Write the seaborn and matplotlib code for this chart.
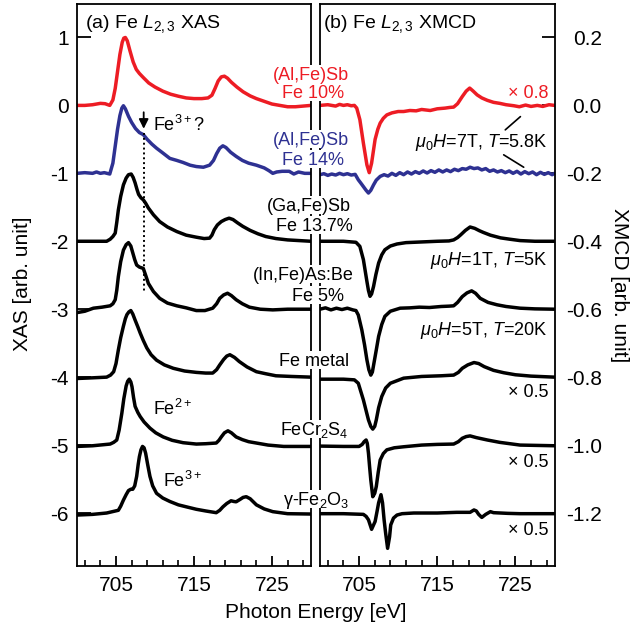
import numpy as np
import matplotlib
matplotlib.use("Agg")
import matplotlib.pyplot as plt
import seaborn as sns
from matplotlib.patches import Rectangle
from matplotlib.ticker import FixedLocator, FormatStrFormatter

# Fe L2,3 XAS (left) and XMCD (right) spectra
# XAS shapes relative to their baseline, XMCD shapes as plotted (scaled)

RED = "#ed1c24"
BLUE = "#2e3192"

xas_offsets = [0, -1, -2, -3, -4, -5, -6]
xmcd_offsets = [0.0, -0.2, -0.4, -0.6, -0.8, -1.0, -1.2]
colors = [RED, BLUE, "k", "k", "k", "k", "k"]

# --- XAS ---
xas_alfe10_e = [700, 701, 702, 703, 703.6, 704.2, 704.6, 704.9, 705.2, 705.5,
                705.8, 706.0, 706.2, 706.45, 706.8, 707.2, 707.6, 708.0, 708.5, 709.2,
                710.0, 711.0, 712.0, 713.0, 714.0, 715.0, 716.0, 716.8, 717.3, 717.7,
                718.1, 718.5, 718.9, 719.3, 719.8, 720.5, 721.3, 722.2, 723.0, 724.0,
                725.0, 726.0, 727.0, 728.0, 729.0, 730.0]
xas_alfe10_v = [0.0, 0.0, 0.01, 0.03, 0.025, 0.0, 0.08, 0.25, 0.5, 0.75,
                0.93, 0.99, 1.0, 0.95, 0.8, 0.64, 0.53, 0.47, 0.41, 0.33,
                0.27, 0.21, 0.165, 0.135, 0.11, 0.10, 0.10, 0.11, 0.15, 0.25,
                0.36, 0.42, 0.43, 0.40, 0.34, 0.27, 0.20, 0.14, 0.10, 0.06,
                0.02, 0.0, -0.02, -0.02, -0.01, 0.0]

xas_alfe14_e = [700, 701, 702, 702.5, 703, 703.5, 704.2, 704.6, 704.9, 705.2,
                705.5, 705.75, 705.95, 706.2, 706.6, 707.0, 707.5, 708.0, 708.5, 709.0,
                709.6, 710.2, 711.0, 711.9, 712.8, 713.6, 714.5, 715.3, 716.2, 717.0,
                717.5, 717.9, 718.3, 718.7, 719.1, 719.7, 720.4, 721.2, 722.0, 723.0,
                724.0, 724.6, 725.1, 725.6, 726.3, 727.2, 727.8, 728.4, 729.2, 730.0]
xas_alfe14_v = [0.0, 0.01, 0.0, 0.02, 0.0, 0.01, -0.01, 0.15, 0.40, 0.65,
                0.85, 0.96, 0.995, 0.95, 0.84, 0.75, 0.66, 0.60, 0.57, 0.50,
                0.43, 0.37, 0.30, 0.22, 0.19, 0.16, 0.12, 0.10, 0.09, 0.12,
                0.19, 0.29, 0.37, 0.405, 0.38, 0.31, 0.25, 0.19, 0.15, 0.12,
                0.08, 0.04, 0.0, 0.02, 0.03, 0.03, -0.01, 0.02, 0.0, 0.0]

xas_gafe_e = [700, 702, 703.8, 704.25, 704.6, 704.9, 705.1, 705.3, 705.6, 705.95,
              706.3, 706.6, 706.95, 707.2, 707.45, 707.7, 707.9, 708.2, 708.5, 708.8,
              709.15, 709.8, 710.6, 711.6, 712.8, 714.0, 715.3, 716.3, 717.0, 717.3,
              717.6, 718.0, 718.5, 719.0, 719.5, 720.0, 720.6, 721.25, 722.2, 723.2,
              724.2, 725.5, 727.0, 728.5, 730.0]
xas_gafe_v = [0.0, 0.0, 0.0, 0.03, 0.07, 0.12, 0.28, 0.46, 0.66, 0.83,
              0.93, 0.98, 0.99, 0.94, 0.86, 0.76, 0.69, 0.64, 0.61, 0.56,
              0.49, 0.39, 0.29, 0.21, 0.143, 0.09, 0.06, 0.04, 0.046, 0.09,
              0.17, 0.24, 0.29, 0.32, 0.34, 0.32, 0.27, 0.22, 0.16, 0.11,
              0.07, 0.04, 0.02, 0.01, 0.0]

xas_infe_e = [700, 701, 702.1, 703.2, 704.25, 704.6, 704.9, 705.1, 705.3, 705.6,
              705.95, 706.3, 706.6, 706.9, 707.15, 707.4, 707.65, 708.0, 708.5, 708.8,
              709.15, 709.8, 710.6, 711.6, 712.8, 714.0, 715.3, 716.4, 717.4, 717.9,
              718.3, 718.8, 719.3, 719.8, 720.4, 721.2, 722.1, 723.5, 725.1, 727.0,
              730.0]
xas_infe_v = [-0.05, -0.03, 0.015, 0.03, 0.05, 0.08, 0.14, 0.28, 0.48, 0.70,
              0.87, 0.95, 0.98, 0.93, 0.83, 0.73, 0.65, 0.62, 0.60, 0.50,
              0.38, 0.26, 0.16, 0.09, 0.05, 0.02, -0.02, -0.02, 0.015, 0.08,
              0.16, 0.21, 0.235, 0.20, 0.14, 0.08, 0.03, 0.0, -0.01, 0.0,
              0.0]

xas_femetal_e = [700, 702, 703.8, 704.3, 704.7, 705.0, 705.3, 705.6, 705.95, 706.2,
                 706.4, 706.65, 706.9, 707.15, 707.45, 707.8, 708.1, 708.5, 708.95, 709.5,
                 710.2, 711.2, 712.35, 713.8, 715.3, 716.5, 717.4, 717.9, 718.3, 718.8,
                 719.2, 719.6, 720.2, 720.8, 721.8, 723.0, 724.2, 725.5, 727.5, 730.0]
xas_femetal_v = [-0.02, -0.01, 0.0, 0.03, 0.08, 0.20, 0.40, 0.58, 0.75, 0.86,
                 0.92, 0.96, 0.98, 0.93, 0.84, 0.74, 0.65, 0.54, 0.43, 0.33,
                 0.25, 0.18, 0.13, 0.09, 0.07, 0.06, 0.06, 0.11, 0.18, 0.26,
                 0.31, 0.33, 0.29, 0.23, 0.15, 0.08, 0.05, 0.02, 0.01, 0.0]

xas_fecrs_e = [700, 702, 704.25, 704.7, 705.1, 705.4, 705.75, 706.0, 706.3, 706.5,
               706.7, 706.9, 707.05, 707.25, 707.45, 707.8, 708.1, 708.6, 709.35, 710.1,
               711.05, 712.2, 713.6, 715.3, 716.5, 717.85, 718.2, 718.5, 718.9, 719.35,
               719.8, 720.4, 721.2, 722.0, 723.0, 724.5, 726.5, 730.0]
xas_fecrs_v = [-0.02, -0.01, 0.015, 0.04, 0.075, 0.22, 0.47, 0.68, 0.87, 0.94,
               0.97, 0.93, 0.86, 0.70, 0.57, 0.48, 0.42, 0.34, 0.25, 0.18,
               0.12, 0.07, 0.035, 0.015, 0.02, 0.03, 0.07, 0.12, 0.18, 0.21,
               0.18, 0.12, 0.08, 0.05, 0.03, 0.0, -0.02, -0.02]

xas_fe2o3_e = [700, 702, 703.8, 705.3, 705.6, 705.95, 706.3, 706.6, 706.9, 707.15,
               707.4, 707.65, 707.85, 708.0, 708.2, 708.4, 708.6, 708.8, 709.05, 709.35,
               709.7, 710.2, 711.0, 711.9, 713.0, 714.05, 715.3, 716.5, 717.85, 718.3,
               718.7, 719.2, 719.75, 720.1, 720.4, 720.9, 721.3, 721.7, 722.2, 723.0,
               724.0, 725.1, 727.0, 730.0]
xas_fe2o3_v = [-0.03, -0.02, 0.0, 0.04, 0.10, 0.19, 0.27, 0.33, 0.35, 0.35,
               0.40, 0.54, 0.72, 0.83, 0.93, 0.98, 0.96, 0.88, 0.72, 0.54,
               0.40, 0.29, 0.22, 0.17, 0.12, 0.09, 0.055, 0.03, 0.005, 0.04,
               0.09, 0.14, 0.18, 0.17, 0.165, 0.20, 0.23, 0.24, 0.21, 0.12,
               0.06, 0.02, -0.01, -0.015]

# --- XMCD ---
xmcd_alfe10_e = [700, 701, 702, 702.5, 703, 703.5, 704, 704.4, 704.7, 705.1,
                 705.55, 706.0, 706.3, 706.6, 707.05, 707.4, 707.7, 708.1, 708.55, 709.2,
                 710.0, 710.7, 711.5, 712.3, 713.0, 714.1, 715.0, 716.0, 716.6, 717.1,
                 717.6, 718.2, 718.7, 719.15, 719.6, 720.1, 720.7, 721.4, 722.2, 723.0,
                 723.8, 724.8, 725.5, 726.3, 727.0, 727.8, 728.5, 729.3, 730.0]
xmcd_alfe10_v = [0.0, 0.002, -0.002, 0.003, 0.0, 0.002, -0.001, 0.0, -0.008, -0.042,
                 -0.111, -0.175, -0.198, -0.17, -0.10, -0.07, -0.052, -0.038, -0.028, -0.022,
                 -0.018, -0.018, -0.015, -0.016, -0.012, -0.015, -0.01, -0.008, -0.006, -0.005,
                 0.005, 0.026, 0.042, 0.051, 0.042, 0.031, 0.022, 0.015, 0.009, 0.006,
                 0.002, -0.001, -0.004, 0.001, -0.003, 0.0, -0.003, 0.002, 0.0]

xmcd_alfe14_e = [700, 700.5, 701, 701.5, 702, 702.5, 703, 703.5, 704, 704.5,
                 704.9, 705.2, 705.55, 705.9, 706.2, 706.5, 706.85, 707.2, 707.7, 708.2,
                 708.7, 709.2, 709.7, 710.2, 710.7, 711.2, 711.7, 712.2, 712.7, 713.2,
                 713.7, 714.2, 714.7, 715.2, 715.7, 716.2, 716.7, 717.2, 717.7, 718.2,
                 718.7, 719.2, 719.7, 720.2, 720.7, 721.2, 721.7, 722.2, 722.7, 723.2,
                 723.7, 724.2, 724.7, 725.2, 725.7, 726.2, 726.7, 727.2, 727.7, 728.2,
                 728.7, 729.2, 729.7, 730.0]
xmcd_alfe14_v = [-0.004, -0.001, -0.006, -0.002, -0.005, 0.0, -0.004, -0.001, -0.005, -0.003,
                 -0.019, -0.028, -0.039, -0.05, -0.058, -0.05, -0.034, -0.02, -0.009, -0.004,
                 -0.008, 0.0, -0.006, 0.002, -0.004, 0.004, -0.002, 0.005, 0.0, 0.007,
                 0.001, 0.008, 0.003, 0.01, 0.004, 0.01, 0.005, 0.012, 0.008, 0.014,
                 0.012, 0.018, 0.014, 0.016, 0.01, 0.014, 0.006, 0.01, 0.004, 0.008,
                 0.002, 0.007, 0.0, 0.006, -0.002, 0.005, -0.001, 0.004, -0.004, 0.003,
                 -0.003, 0.002, -0.004, 0.0]

xmcd_gafe_e = [700, 703, 704.6, 705.1, 705.55, 706.0, 706.2, 706.4, 706.6, 706.85,
               707.15, 707.5, 707.9, 708.3, 709.0, 709.85, 711.0, 713.0, 715.0, 716.5,
               717.1, 717.6, 718.0, 718.6, 719.2, 719.8, 720.4, 720.9, 721.8, 723.1,
               724.3, 725.6, 727.5, 730.0]
xmcd_gafe_v = [0.0, 0.0, -0.003, -0.015, -0.054, -0.118, -0.145, -0.162, -0.155, -0.133,
               -0.098, -0.064, -0.04, -0.025, -0.014, -0.008, -0.004, -0.002, 0.0, 0.001,
               0.004, 0.011, 0.019, 0.032, 0.042, 0.038, 0.031, 0.026, 0.018, 0.01,
               0.006, 0.002, 0.0, 0.0]

xmcd_infe_e = [700, 700.7, 701.4, 702.1, 702.8, 703.5, 704.2, 704.6, 704.9, 705.35,
               705.7, 706.0, 706.25, 706.5, 706.7, 706.9, 707.2, 707.5, 707.9, 708.3,
               709.0, 710.25, 711.5, 712.7, 714.0, 715.5, 716.5, 717.1, 717.6, 718.2,
               718.8, 719.4, 719.9, 720.5, 721.5, 722.65, 723.8, 725.6, 727.5, 730.0]
xmcd_infe_v = [0.0, 0.004, -0.002, 0.003, -0.001, 0.003, -0.002, -0.004, -0.017, -0.061,
               -0.105, -0.149, -0.178, -0.194, -0.185, -0.159, -0.12, -0.08, -0.045, -0.021,
               -0.006, 0.003, 0.004, 0.006, 0.005, 0.008, 0.009, 0.01, 0.02, 0.037,
               0.048, 0.054, 0.047, 0.032, 0.02, 0.013, 0.008, 0.003, 0.001, 0.0]

xmcd_femetal_e = [700, 703, 704.4, 704.9, 705.55, 706.2, 706.5, 706.75, 707.0, 707.2,
                  707.5, 707.9, 708.4, 709.0, 710.7, 713.0, 715.5, 717.1, 717.7, 718.2,
                  718.9, 719.7, 720.3, 721.0, 722.2, 723.5, 725.0, 727.0, 730.0]
xmcd_femetal_v = [-0.006, -0.006, -0.008, -0.018, -0.067, -0.126, -0.145, -0.153, -0.145, -0.126,
                  -0.09, -0.057, -0.032, -0.018, -0.003, 0.002, 0.004, 0.006, 0.014, 0.026,
                  0.036, 0.043, 0.04, 0.031, 0.02, 0.013, 0.007, 0.003, 0.0]

xmcd_fecrs_e = [700, 703, 705.0, 705.4, 705.65, 705.9, 706.05, 706.2, 706.35, 706.5,
                706.75, 707.0, 707.2, 707.45, 707.7, 708.1, 708.55, 709.5, 710.7, 713.0,
                715.0, 717.1, 717.7, 718.2, 718.7, 719.2, 720.0, 721.4, 723.0, 725.6,
                730.0]
xmcd_fecrs_v = [-0.003, -0.004, -0.004, 0.002, 0.01, 0.015, 0.005, -0.024, -0.065, -0.103,
                -0.152, -0.142, -0.122, -0.08, -0.044, -0.025, -0.014, -0.008, -0.005, 0.0,
                0.002, 0.003, 0.01, 0.02, 0.025, 0.027, 0.022, 0.015, 0.008, 0.0,
                -0.002]

xmcd_fe2o3_e = [700, 703, 705.55, 705.9, 706.2, 706.6, 707.05, 707.3, 707.5, 707.8,
                708.0, 708.2, 708.4, 708.65, 708.9, 709.05, 709.4, 709.85, 710.5, 712.0,
                715.0, 717.5, 719.2, 719.7, 720.0, 720.3, 720.7, 721.2, 721.8, 722.2,
                724.0, 725.6, 730.0]
xmcd_fe2o3_v = [-0.002, -0.002, -0.004, -0.01, -0.02, -0.048, -0.025, 0.005, 0.03, 0.054,
                0.03, -0.02, -0.06, -0.104, -0.07, -0.035, -0.015, -0.006, -0.002, 0.0,
                0.0, 0.002, 0.002, 0.009, 0.006, -0.004, -0.013, -0.004, 0.004, 0.001,
                -0.001, -0.002, -0.002]

xas_curves = [(xas_alfe10_e, xas_alfe10_v), (xas_alfe14_e, xas_alfe14_v),
              (xas_gafe_e, xas_gafe_v), (xas_infe_e, xas_infe_v),
              (xas_femetal_e, xas_femetal_v), (xas_fecrs_e, xas_fecrs_v),
              (xas_fe2o3_e, xas_fe2o3_v)]
xmcd_curves = [(xmcd_alfe10_e, xmcd_alfe10_v), (xmcd_alfe14_e, xmcd_alfe14_v),
               (xmcd_gafe_e, xmcd_gafe_v), (xmcd_infe_e, xmcd_infe_v),
               (xmcd_femetal_e, xmcd_femetal_v), (xmcd_fecrs_e, xmcd_fecrs_v),
               (xmcd_fe2o3_e, xmcd_fe2o3_v)]

xas_ticks = [1, 0, -1, -2, -3, -4, -5, -6]
xmcd_ticks = [0.2, 0.0, -0.2, -0.4, -0.6, -0.8, -1.0, -1.2]
energy_ticks = [705, 715, 725]

# --- style ---
sns.set_style("ticks", rc={"axes.edgecolor": "black", "xtick.color": "black",
                           "ytick.color": "black", "text.color": "black",
                           "axes.labelcolor": "black"})
plt.rcParams["font.family"] = ["Liberation Sans", "DejaVu Sans"]
plt.rcParams["mathtext.fontset"] = "custom"
plt.rcParams["mathtext.rm"] = "Liberation Sans"
plt.rcParams["mathtext.it"] = "Liberation Sans:italic"
plt.rcParams["mathtext.bf"] = "Liberation Sans:bold"
plt.rcParams["axes.unicode_minus"] = False

W, H = 631, 630
fig = plt.figure(figsize=(W / 100, H / 100), dpi=100)


def fpos(x, y):
    # pixel position -> figure fraction
    return x / W, 1 - y / H


ax1 = fig.add_axes([77 / W, 1 - 566 / H, 234 / W, 562.5 / H])
ax2 = fig.add_axes([320 / W, 1 - 566 / H, 234.5 / W, 562.5 / H])

for (e, v), off, c in zip(xas_curves, xas_offsets, colors):
    sns.lineplot(x=e, y=np.array(v) + off, ax=ax1, color=c, linewidth=2.5,
                 estimator=None, sort=False, legend=False)
for (e, v), off, c in zip(xmcd_curves, xmcd_offsets, colors):
    sns.lineplot(x=e, y=np.array(v) + off, ax=ax2, color=c, linewidth=2.5,
                 estimator=None, sort=False, legend=False)

for ax in (ax1, ax2):
    ax.set_xlim(700, 730)
    ax.xaxis.set_major_locator(FixedLocator(energy_ticks))
    ax.xaxis.set_minor_locator(FixedLocator(np.arange(701, 730, 2)))
    ax.tick_params(axis="x", which="major", direction="in", length=7.5, width=1.3,
                   labelsize=15, pad=7)
    ax.tick_params(axis="x", which="minor", direction="in", length=4, width=1.2)
    ax.set_xlabel("")
    ax.set_ylabel("")
    for s in ax.spines.values():
        s.set_linewidth(1.3)
        s.set_visible(True)

ax1.set_ylim(-6.78, 1.5)
ax1.set_yticks(xas_ticks)
ax1.set_yticklabels([str(t) for t in xas_ticks])
ax1.tick_params(axis="y", direction="in", length=10, width=1.3, labelsize=15, pad=6,
                left=True, right=False)

ax2.set_ylim(-1.356, 0.3)
ax2.set_yticks(xmcd_ticks)
ax2.yaxis.set_major_formatter(FormatStrFormatter("%.1f"))
ax2.tick_params(axis="y", direction="in", length=9.5, width=1.3, labelsize=15, pad=34,
                left=False, right=True, labelleft=False, labelright=True)
plt.setp(ax2.get_yticklabels(), ha="right")

# panel titles
ax1.text(*fpos(85, 28), "(a) Fe $L_{2,3}$ XAS", transform=fig.transFigure,
         fontsize=14, ha="left", va="baseline")
ax2.text(*fpos(323, 28), "(b) Fe $L_{2,3}$ XMCD", transform=fig.transFigure,
         fontsize=14, ha="left", va="baseline")

# Fe3+ marker
ax1.annotate("", xy=(708.55, -0.385), xytext=(708.55, -0.06),
             arrowprops=dict(arrowstyle="-|>", color="k", lw=1.3, mutation_scale=14))
ax1.plot([708.55, 708.55], [-0.40, -2.74], color="k", ls=(0, (1, 1.5)), lw=1.4)
ax1.text(709.75, -0.374, "Fe$^{3+}$?", fontsize=13, ha="left", va="baseline")
ax1.text(709.7, -4.555, "Fe$^{2+}$", fontsize=13, ha="left", va="baseline")
ax1.text(711.0, -5.617, "Fe$^{3+}$", fontsize=13, ha="left", va="baseline")

# sample labels straddling both panels; the spines are hidden behind them
labels = [
    ("(Al,Fe)Sb", 311, 79.5, RED), ("Fe 10%", 312.7, 98, RED),
    ("(Al,Fe)Sb", 311, 145, BLUE), ("Fe 14%", 312.7, 165, BLUE),
    ("(Ga,Fe)Sb", 309, 211, "k"), ("Fe 13.7%", 314, 231, "k"),
    ("(In,Fe)As:Be", 303.4, 280, "k"), ("Fe 5%", 318, 301, "k"),
    ("Fe metal", 314, 366, "k"),
    ("FeCr$_2$S$_4$", 314.7, 435, "k"),
    ("γ-Fe$_2$O$_3$", 316, 505, "k"),
]
for txt, x, y, c in labels:
    x0, y0 = fpos(307, y + 3)
    fig.add_artist(Rectangle((x0, y0), 17 / W, 18 / H, transform=fig.transFigure,
                             facecolor="white", edgecolor="none", zorder=2))
    fig.text(*fpos(x, y), txt, color=c, fontsize=13, ha="center", va="baseline",
             zorder=5)

# XMCD conditions / scale factors
notes = [
    ("× 0.8", 98, RED),
    (r"$\mu_0H$=7T, $T$=5.8K", 147, "k"),
    (r"$\mu_0H$=1T, $T$=5K", 265, "k"),
    (r"$\mu_0H$=5T, $T$=20K", 335, "k"),
    ("× 0.5", 397, "k"),
    ("× 0.5", 467, "k"),
    ("× 0.5", 535, "k"),
]
for txt, y, c in notes:
    fig.text(*fpos(548, y), txt, color=c, fontsize=13, ha="right", va="baseline")

ax2.plot([723.7, 725.64], [-0.072, -0.033], color="k", lw=1.2)
ax2.plot([723.5, 726.06], [-0.1455, -0.182], color="k", lw=1.2)

# axis titles
fig.text(*fpos(23, 284), "XAS [arb. unit]", fontsize=15, rotation=90,
         ha="center", va="center")
fig.text(*fpos(620, 285), "XMCD [arb. unit]", fontsize=15, rotation=270,
         ha="center", va="center")
fig.text(*fpos(316, 613), "Photon Energy [eV]", fontsize=15, ha="center", va="center")

fig.savefig("out.png", dpi=100)
